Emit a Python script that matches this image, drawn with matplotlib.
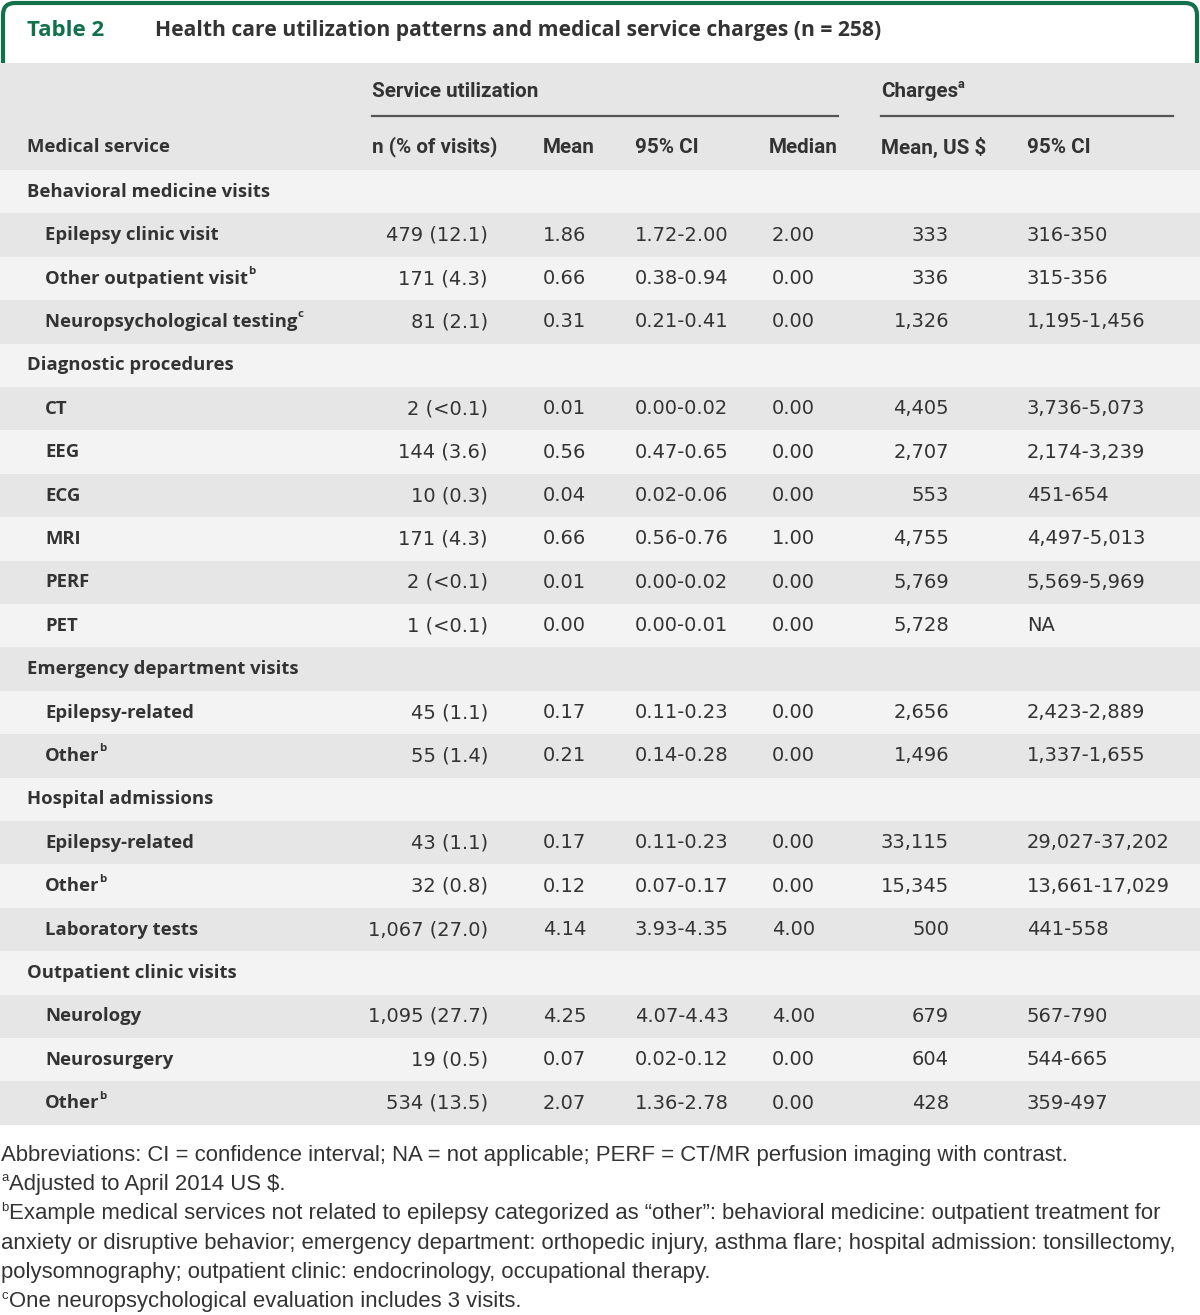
import matplotlib
matplotlib.use("Agg")
import matplotlib.pyplot as plt
from matplotlib.patches import FancyBboxPatch, Rectangle

# ---- table content ----
services = [
    "Behavioral medicine visits", "Epilepsy clinic visit", "Other outpatient visit",
    "Neuropsychological testing", "Diagnostic procedures", "CT", "EEG", "ECG", "MRI",
    "PERF", "PET", "Emergency department visits", "Epilepsy-related", "Other",
    "Hospital admissions", "Epilepsy-related", "Other", "Laboratory tests",
    "Outpatient clinic visits", "Neurology", "Neurosurgery", "Other",
]
is_section = [True, False, False, False, True, False, False, False, False, False, False,
              True, False, False, True, False, False, False, True, False, False, False]
label_sup = ["", "", "b", "c", "", "", "", "", "", "", "", "", "", "b",
             "", "", "b", "", "", "", "", "b"]
n_pct = ["", "479 (12.1)", "171 (4.3)", "81 (2.1)", "", "2 (<0.1)", "144 (3.6)", "10 (0.3)",
         "171 (4.3)", "2 (<0.1)", "1 (<0.1)", "", "45 (1.1)", "55 (1.4)", "", "43 (1.1)",
         "32 (0.8)", "1,067 (27.0)", "", "1,095 (27.7)", "19 (0.5)", "534 (13.5)"]
mean = ["", "1.86", "0.66", "0.31", "", "0.01", "0.56", "0.04", "0.66", "0.01", "0.00", "",
        "0.17", "0.21", "", "0.17", "0.12", "4.14", "", "4.25", "0.07", "2.07"]
ci = ["", "1.72-2.00", "0.38-0.94", "0.21-0.41", "", "0.00-0.02", "0.47-0.65", "0.02-0.06",
      "0.56-0.76", "0.00-0.02", "0.00-0.01", "", "0.11-0.23", "0.14-0.28", "", "0.11-0.23",
      "0.07-0.17", "3.93-4.35", "", "4.07-4.43", "0.02-0.12", "1.36-2.78"]
median = ["", "2.00", "0.00", "0.00", "", "0.00", "0.00", "0.00", "1.00", "0.00", "0.00", "",
          "0.00", "0.00", "", "0.00", "0.00", "4.00", "", "4.00", "0.00", "0.00"]
charge_mean = ["", "333", "336", "1,326", "", "4,405", "2,707", "553", "4,755", "5,769", "5,728",
               "", "2,656", "1,496", "", "33,115", "15,345", "500", "", "679", "604", "428"]
charge_ci = ["", "316-350", "315-356", "1,195-1,456", "", "3,736-5,073", "2,174-3,239",
             "451-654", "4,497-5,013", "5,569-5,969", "NA", "", "2,423-2,889", "1,337-1,655",
             "", "29,027-37,202", "13,661-17,029", "441-558", "", "567-790", "544-665",
             "359-497"]

footnotes = [
    ("", "Abbreviations: CI = confidence interval; NA = not applicable; PERF = CT/MR perfusion imaging with contrast."),
    ("a", "Adjusted to April 2014 US $."),
    ("b", "Example medical services not related to epilepsy categorized as \u201cother\u201d: behavioral medicine: outpatient treatment for"),
    ("", "anxiety or disruptive behavior; emergency department: orthopedic injury, asthma flare; hospital admission: tonsillectomy,"),
    ("", "polysomnography; outpatient clinic: endocrinology, occupational therapy."),
    ("c", "One neuropsychological evaluation includes 3 visits."),
]

GREEN = "#12704a"
TXT = "#333333"
LIGHT = "#f2f3f2"
DARK = "#e6e6e6"
LABEL_FONT = dict(family=["Open Sans", "DejaVu Sans"], weight="bold", size=13.3)
NUM_FONT = dict(family=["DejaVu Sans"], size=14.0)
HEAD_FONT = dict(family=["Liberation Sans Narrow", "Roboto", "DejaVu Sans"], weight="bold", size=14.9)
NOTE_FONT = dict(family=["Liberation Sans", "DejaVu Sans"], size=15.95)

fig = plt.figure(figsize=(12, 13.15), dpi=100)
ax = fig.add_axes([0, 0, 1, 1])
ax.set_xlim(0, 1200)
ax.set_ylim(1315, 0)
ax.axis("off")
renderer = fig.canvas.get_renderer()


def sup_after(t, s, font, dy=-7):
    """put a small superscript right after text artist t"""
    bb = t.get_window_extent(renderer)
    x1 = ax.transData.inverted().transform((bb.x1, bb.y0))[0]
    y = t.get_position()[1]
    f = dict(font)
    f["size"] = font["size"] * 0.62
    ax.text(x1, y + dy, s, color=t.get_color(), va="center", ha="left", zorder=3, **f)


# title box
box = FancyBboxPatch((3, 3), 1194, 90, boxstyle="round,pad=0,rounding_size=12",
                     fc="white", ec=GREEN, lw=3, zorder=1)
ax.add_patch(box)
ax.add_patch(Rectangle((0, 63), 1200, 107, fc=DARK, ec="none", zorder=2))
ax.text(27, 30, "Table 2", color=GREEN, va="center", ha="left",
        family=["Open Sans", "DejaVu Sans"], weight="bold", size=16)
ax.text(155, 30, "Health care utilization patterns and medical service charges (n = 258)",
        color=TXT, va="center", ha="left", family=["Open Sans", "DejaVu Sans"],
        weight="bold", size=15.2)

# header
ax.text(372, 91, "Service utilization", color=TXT, va="center", ha="left", zorder=3, **HEAD_FONT)
th = ax.text(881, 91, "Charges", color=TXT, va="center", ha="left", zorder=3, **HEAD_FONT)
sup_after(th, "a", HEAD_FONT)
ax.plot([372, 838], [116, 116], color="#555555", lw=1.6, zorder=3)
ax.plot([881, 1173], [116, 116], color="#555555", lw=1.6, zorder=3)
hy = 147
ax.text(27, hy, "Medical service", color=TXT, va="center", ha="left", zorder=3, **LABEL_FONT)
ax.text(372, hy, "n (% of visits)", color=TXT, va="center", ha="left", zorder=3, **HEAD_FONT)
ax.text(543, hy, "Mean", color=TXT, va="center", ha="left", zorder=3, **HEAD_FONT)
ax.text(635, hy, "95% CI", color=TXT, va="center", ha="left", zorder=3, **HEAD_FONT)
ax.text(838, hy, "Median", color=TXT, va="center", ha="right", zorder=3, **HEAD_FONT)
ax.text(881, hy, "Mean, US $", color=TXT, va="center", ha="left", zorder=3, **HEAD_FONT)
ax.text(1027, hy, "95% CI", color=TXT, va="center", ha="left", zorder=3, **HEAD_FONT)

# body rows
top = 170.0
rh = 43.4
for i, name in enumerate(services):
    y0 = top + i * rh
    yc = y0 + rh / 2
    ax.add_patch(Rectangle((0, y0), 1200, rh, fc=LIGHT if i % 2 == 0 else DARK,
                           ec="none", zorder=2))
    x = 27 if is_section[i] else 45
    t = ax.text(x, yc, name, color=TXT, va="center", ha="left", zorder=3, **LABEL_FONT)
    if label_sup[i]:
        sup_after(t, label_sup[i], LABEL_FONT)
    ax.text(488, yc, n_pct[i], color=TXT, va="center", ha="right", zorder=3, **NUM_FONT)
    ax.text(543, yc, mean[i], color=TXT, va="center", ha="left", zorder=3, **NUM_FONT)
    ax.text(635, yc, ci[i], color=TXT, va="center", ha="left", zorder=3, **NUM_FONT)
    ax.text(772, yc, median[i], color=TXT, va="center", ha="left", zorder=3, **NUM_FONT)
    ax.text(949, yc, charge_mean[i], color=TXT, va="center", ha="right", zorder=3, **NUM_FONT)
    ax.text(1027, yc, charge_ci[i], color=TXT, va="center", ha="left", zorder=3, **NUM_FONT)

# footnotes
fy = 1155
for k, (mark, line) in enumerate(footnotes):
    y = fy + k * 29.4
    x = 1
    if mark:
        sm = dict(NOTE_FONT)
        sm["size"] = NOTE_FONT["size"] * 0.6
        ax.text(x, y - 6, mark, color=TXT, va="center", ha="left", **sm)
        x = 9
    ax.text(x, y, line, color=TXT, va="center", ha="left", **NOTE_FONT)

fig.savefig("out.png", dpi=100)
